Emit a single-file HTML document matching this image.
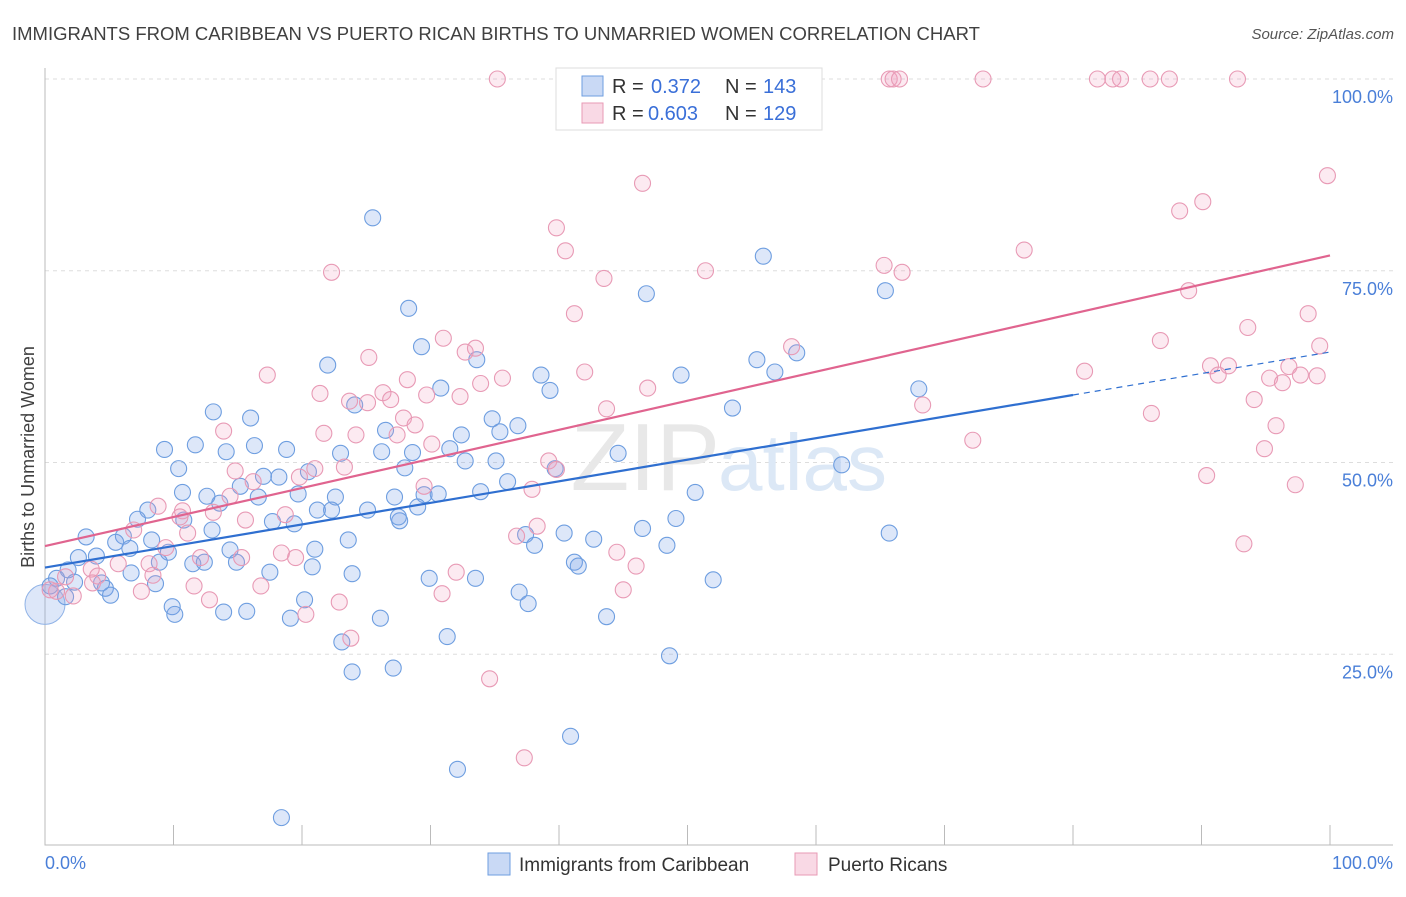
<!DOCTYPE html>
<html><head><meta charset="utf-8"><style>
body{margin:0;background:#fff;font-family:"Liberation Sans",sans-serif;}
svg text{font-family:"Liberation Sans",sans-serif;}
</style></head><body>
<svg id="chart" width="1406" height="892" xmlns="http://www.w3.org/2000/svg">
<text x="12" y="40" font-size="18.5" fill="#404040">IMMIGRANTS FROM CARIBBEAN VS PUERTO RICAN BIRTHS TO UNMARRIED WOMEN CORRELATION CHART</text>
<text x="1394" y="39" font-size="15" fill="#555" font-style="italic" text-anchor="end">Source: ZipAtlas.com</text>
<g id="grid"></g>
<text x="720" y="490" font-size="96" fill="#e8e8e8" text-anchor="end" font-family="Liberation Serif">ZIP</text>
<text x="718" y="490" font-size="80" fill="#dce8f6">atlas</text>
<g id="pts"></g>
<g id="lines"></g>
<text transform="translate(34,457) rotate(-90)" font-size="18" fill="#404040" text-anchor="middle">Births to Unmarried Women</text>
<g>
<rect x="556" y="68" width="266" height="62" fill="#fff" stroke="#ddd"/>
<rect x="582" y="76" width="21" height="20" fill="rgba(120,160,230,0.4)" stroke="#6e9ee0"/>
<rect x="582" y="103" width="21" height="20" fill="rgba(240,160,190,0.4)" stroke="#e89ab5"/>
<text x="612" y="93" font-size="20" fill="#333">R =</text>
<text x="651" y="93" font-size="20" fill="#3a6fd8">0.372</text>
<text x="725" y="93" font-size="20" fill="#333">N =</text>
<text x="763" y="93" font-size="20" fill="#3a6fd8">143</text>
<text x="612" y="120" font-size="20" fill="#333">R =</text>
<text x="648" y="120" font-size="20" fill="#3a6fd8">0.603</text>
<text x="725" y="120" font-size="20" fill="#333">N =</text>
<text x="763" y="120" font-size="20" fill="#3a6fd8">129</text>
</g>
<g>
<rect x="488" y="853" width="22" height="22" fill="rgba(120,160,230,0.4)" stroke="#6e9ee0"/>
<text x="519" y="871" font-size="19" fill="#333">Immigrants from Caribbean</text>
<rect x="795" y="853" width="22" height="22" fill="rgba(240,160,190,0.4)" stroke="#e89ab5"/>
<text x="828" y="871" font-size="19" fill="#333">Puerto Ricans</text>
</g>
</svg>
<script>
const blueX=[25.5,28.3,22,29.3,33.6,46.8,55.9,65.4,58.5,55.4,56.8,49.5,38.6,39.3,30.8,24.1,13.1,16,34.8,36.8,35.4,26.5,32.4,53.5,68,9.3,11.7,14.1,16.3,18.8,23,26.2,28.6,31.5,32.7,35.1,39.7,44.6,62,10.4,20.5,28,17,18.2,15.2,10.7,12.6,16.6,19.7,22.6,27.2,29.5,30.6,33.9,36,50.6,8,13.6,10.8,7.2,13,17.7,19.4,21.2,22.3,25.1,27.6,29,27.5,49.1,46.5,40.4,37.4,42.7,48.4,65.7,3.2,6.1,8.3,5.5,6.6,9.6,14.4,21,23.6,38.1,4,2.6,8.9,11.5,12.4,14.9,20.8,41.2,41.5,1.8,6.7,17.5,23.9,29.9,33.5,52,0.9,2.3,4.4,4.7,8.6,0.4,1.6,5.1,36.9,37.6,20.2,9.9,10.1,13.9,15.7,19.1,26.1,43.7,31.3,23.1,48.6,23.9,27.1,40.9,32.1,18.4];
const blueY=[81.9,70.1,62.7,65.1,63.4,72,76.9,72.4,64.3,63.4,61.8,61.4,61.4,59.4,59.7,57.5,56.6,55.8,55.7,54.8,54,54.2,53.6,57.1,59.6,51.7,52.3,51.4,52.2,51.7,51.2,51.4,51.3,51.8,50.2,50.2,49.2,51.2,49.7,49.2,48.8,49.3,48.2,48.1,46.9,46.1,45.6,45.5,45.9,45.5,45.5,45.8,45.9,46.2,47.5,46.1,43.8,44.7,42.5,42.6,41.2,42.3,42,43.8,43.8,43.8,42.4,44.2,42.9,42.7,41.4,40.8,40.6,40,39.2,40.8,40.3,40.4,39.9,39.6,38.8,38.3,38.6,38.7,39.9,39.2,37.8,37.6,37,36.8,37,37,36.4,37,36.5,36,35.6,35.7,35.5,34.9,34.9,34.7,34.9,34.4,34.3,33.6,34.2,33.9,32.5,32.7,33.1,31.6,32.1,31.2,30.2,30.5,30.6,29.7,29.7,29.9,27.3,26.6,24.8,22.7,23.2,14.3,10,3.7];
const pinkX=[35.2,65.7,66,66.5,73,81.9,83.1,83.7,86,87.5,92.8,46.5,99.8,88.3,90.1,39.8,40.5,76.2,22.3,43.5,51.4,65.3,66.7,89,41.2,98.3,93.6,86.8,99.2,58.1,31,32.7,33.5,25.2,90.7,92.1,91.3,96.8,95.3,96.3,97.7,99,80.9,17.3,35.6,42,28.2,33.9,46.9,26.3,21.4,29.7,32.3,26.9,23.7,25.1,94.1,68.3,43.7,86.1,27.9,28.8,95.8,21.7,24.2,27.4,13.9,30.1,72.2,94.9,39.2,21,23.3,14.8,19.8,39.8,90.4,97.3,16.2,29.5,37.9,14.4,8.8,10.7,13.1,10.5,15.6,18.7,11.1,38.3,36.7,6.9,9.4,93.3,12.1,15.3,18.4,19.5,44.5,46,5.7,8.1,3.6,4.1,8.4,32,3.7,1.6,16.8,11.6,7.5,0.9,30.9,45,2.2,12.8,22.9,20.3,23.8,34.6,37.3,0.4];
const pinkY=[100,100,100,100,100,100,100,100,100,100,100,86.4,87.4,82.8,84,80.6,77.6,77.7,74.8,74,75,75.7,74.8,72.4,69.4,69.4,67.6,65.9,65.2,65.1,66.2,64.4,64.9,63.7,62.6,62.6,61.4,62.5,61,60.4,61.4,61.3,61.9,61.4,61,61.8,60.8,60.3,59.7,59.1,59,58.8,58.6,58.2,58,57.8,58.2,57.5,57,56.4,55.8,54.9,54.8,53.8,53.6,53.6,54.1,52.4,52.9,51.8,50.2,49.2,49.4,48.9,48.1,49.1,48.3,47.1,47.5,46.9,46.5,45.6,44.3,43.7,43.5,42.9,42.5,43.2,40.8,41.7,40.4,41.2,38.9,39.4,37.6,37.6,38.2,37.6,38.3,36.5,36.8,36.8,36.1,35.2,35.3,35.7,34.3,35.1,33.9,33.9,33.2,33.2,32.9,33.4,32.6,32.1,31.8,30.2,27.1,21.8,11.5,33.4];
const yTicks=[100,75,50,25];
const yTickLabels=["100.0%","75.0%","50.0%","25.0%"];
const xTicks=[0,10,20,30,40,50,60,70,80,90,100];
const blueLine=[[0,36.3],[80,58.8]], blueDash=[[80,58.8],[100,64.4]];
const pinkLine=[[0,39.1],[100,77]];
const NS="http://www.w3.org/2000/svg";
const X=v=>45+v*12.85, Y=v=>846-v*7.67;
function mk(tag,attrs,parent){const e=document.createElementNS(NS,tag);for(const k in attrs)e.setAttribute(k,attrs[k]);parent.appendChild(e);return e;}
const grid=document.getElementById('grid');
yTicks.forEach((t,i)=>{
 const l=mk('line',{x1:45,x2:1393,y1:Y(t),y2:Y(t),stroke:'#ddd','stroke-dasharray':'4,4'},grid);
 
 
 const tx=mk('text',{x:1393,y:Y(t)+24,'font-size':18,fill:'#4a7fd8','text-anchor':'end'},grid);
 tx.textContent=yTickLabels[i];
 
 
});
const ax=mk('path',{d:'M45 68 V845 H1393',stroke:'#bbb',fill:'none'},grid);


xTicks.forEach(t=>{const l=mk('line',{x1:X(t),x2:X(t),y1:825,y2:845,stroke:'#bbb'},grid);
 
 });
const xl0=mk('text',{x:45,y:869,'font-size':18,fill:'#4a7fd8'},grid);xl0.textContent='0.0%';


const xl1=mk('text',{x:1393,y:869,'font-size':18,fill:'#4a7fd8','text-anchor':'end'},grid);xl1.textContent='100.0%';


const pts=document.getElementById('pts');
const big=mk('circle',{cx:X(0),cy:Y(31.5),r:20,fill:'rgba(120,160,230,0.25)',stroke:'#8fb2e6'},pts);


blueX.forEach((v,i)=>{const c=mk('circle',{cx:X(v),cy:Y(blueY[i]),r:8,fill:'rgba(120,160,230,0.25)',stroke:'#6e9ee0','stroke-width':1.1},pts);
 
 });
pinkX.forEach((v,i)=>{const c=mk('circle',{cx:X(v),cy:Y(pinkY[i]),r:8,fill:'rgba(240,160,190,0.22)',stroke:'#e89ab5','stroke-width':1.1},pts);
 
 });
const lines=document.getElementById('lines');
const bl=mk('line',{x1:X(blueLine[0][0]),y1:Y(blueLine[0][1]),x2:X(blueLine[1][0]),y2:Y(blueLine[1][1]),stroke:'#2f6fd0','stroke-width':2.2},lines);


const bd=mk('line',{x1:X(blueDash[0][0]),y1:Y(blueDash[0][1]),x2:X(blueDash[1][0]),y2:Y(blueDash[1][1]),stroke:'#2f6fd0','stroke-width':1.2,'stroke-dasharray':'6,5'},lines);


const pl=mk('line',{x1:X(pinkLine[0][0]),y1:Y(pinkLine[0][1]),x2:X(pinkLine[1][0]),y2:Y(pinkLine[1][1]),stroke:'#e0648f','stroke-width':2.2},lines);


</script>
</body></html>
